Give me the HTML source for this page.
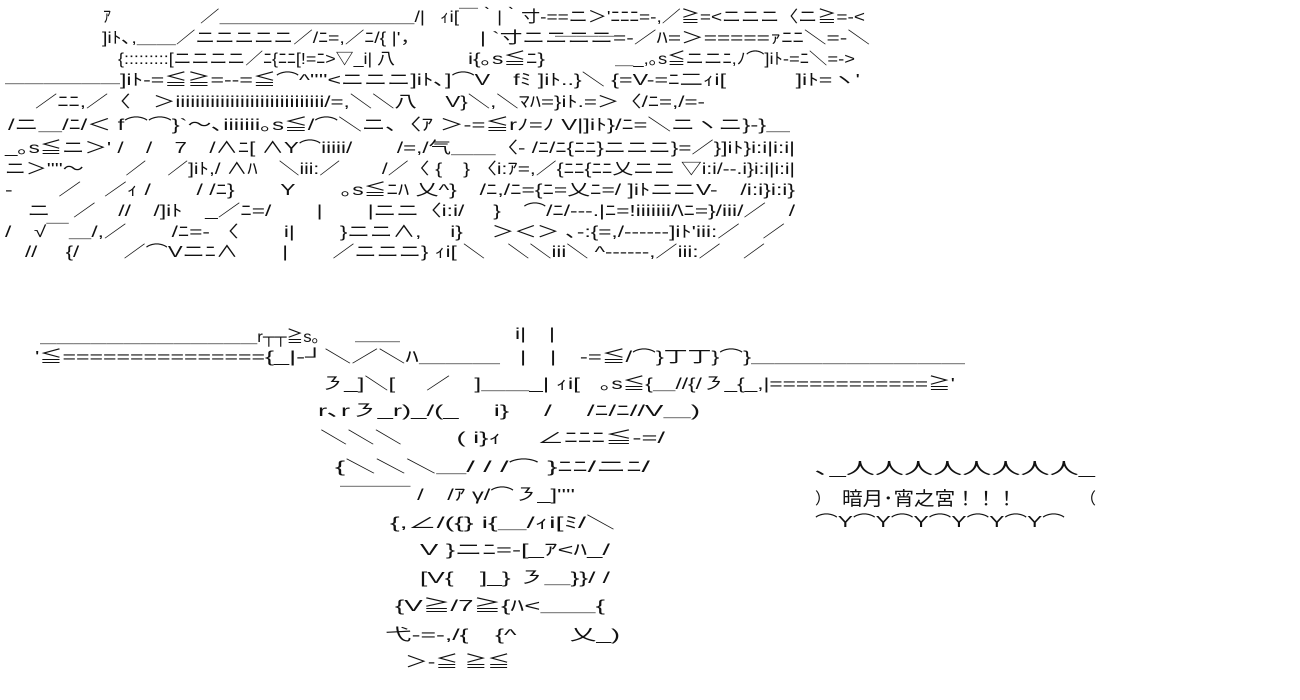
<!DOCTYPE html>
<html><head><meta charset="utf-8"><style>
html,body{margin:0;padding:0;background:#fff;width:1300px;height:700px;overflow:hidden}
svg text{font-family:"Liberation Sans","Noto Sans CJK JP",sans-serif;font-size:16px;fill:#111;white-space:pre}
</style></head><body>
<svg width="1300" height="700" xmlns="http://www.w3.org/2000/svg">
<g>
<text x="103" y="22">ｱ</text>
<text x="200" y="22" textLength="225" lengthAdjust="spacingAndGlyphs">／＿＿＿＿＿＿＿＿＿＿/|</text>
<text x="440" y="22" textLength="425" lengthAdjust="spacingAndGlyphs">ｨi[￣｀|｀寸-==ニ＞'ﾆﾆﾆ=-,／≧=&lt;ニニニ〈ニ≧=-&lt;</text>

<text x="102" y="43" textLength="318" lengthAdjust="spacingAndGlyphs">]iﾄ､,＿＿／ニニニニニ／/ﾆ=,／ﾆ/{ |'，</text>
<text x="480" y="43" textLength="390" lengthAdjust="spacingAndGlyphs">| `寸ニニニニ=-／ﾊ=＞=====ｧﾆﾆ＼=-＼</text>
<text x="555" y="50" textLength="65" lengthAdjust="spacingAndGlyphs">￣￣￣</text>

<text x="118" y="64" textLength="277" lengthAdjust="spacingAndGlyphs">{:::::::::[ニニニニ／ﾆ{ﾆﾆ[!=ﾆ&gt;▽_i| 八</text>
<text x="468" y="64" textLength="77" lengthAdjust="spacingAndGlyphs">i{｡s≦ﾆ}</text>
<text x="615" y="64" textLength="240" lengthAdjust="spacingAndGlyphs">＿_,｡s≦ニニﾆ,ﾉ⌒]iﾄ-=ﾆ＼=-&gt;</text>

<text x="5" y="82" textLength="115" lengthAdjust="spacingAndGlyphs">＿＿＿＿＿＿</text>
<text x="120" y="85" textLength="325" lengthAdjust="spacingAndGlyphs">]iﾄ-=≦≧=--=≦⌒^''''&lt;ニニニ]iﾄ､</text>
<text x="445" y="85" textLength="415" lengthAdjust="spacingAndGlyphs">]⌒V　fﾐ ]iﾄ..}＼ {=V-=ﾆ二ｨi[　　　]iﾄ=ヽ'</text>

<text x="35" y="107" textLength="670" lengthAdjust="spacingAndGlyphs">／ﾆﾆ,／〈　＞iiiiiiiiiiiiiiiiiiiiiiiiiiiiii/=,＼＼八　 V}＼,＼ﾏﾊ=}iﾄ.=＞〈/ﾆ=,/=-</text>
<text x="8" y="130" textLength="782" lengthAdjust="spacingAndGlyphs">/ニ＿/ﾆ/＜ f⌒⌒}`～､iiiiiii｡s≦/⌒＼ニ､〈ｱ ＞-=≦rﾉ=ﾉ V|]iﾄ}/ﾆ=＼ニヽニ}-}＿</text>
<text x="5" y="153" textLength="790" lengthAdjust="spacingAndGlyphs">_｡s≦ニ＞' /　/　7　/∧ﾆ[ ∧Y⌒iiiii/　　/=,/气＿＿〈- /ﾆ/ﾆ{ﾆﾆ}ニニニ}=／}]iﾄ}i:i|i:i|</text>
<text x="5" y="174" textLength="790" lengthAdjust="spacingAndGlyphs">ニ＞''''～　　／　／]iﾄ,/ ∧ﾊ　＼iii:／　　/／〈 {　} 〈i:ｱ=,／{ﾆﾆ{ﾆﾆ乂ニニ ▽i:i/--.i}i:i|i:i|</text>
<text x="5" y="195" textLength="790" lengthAdjust="spacingAndGlyphs">-　　／　／ｨ /　　/ /ﾆ}　　Y　　｡s≦ﾆﾊ 乂^}　/ﾆ,/ﾆ={ﾆ=乂ﾆ=/ ]iﾄニニV-　/i:i}i:i}</text>
<text x="5" y="216" textLength="790" lengthAdjust="spacingAndGlyphs">　ニ　／　//　/]iﾄ　_／ﾆ=/　　|　　|ニニ〈i:i/　 }　⌒/ﾆ/---.|ﾆ=!iiiiiii/\ﾆ=}/iii/／　/</text>
<text x="5" y="237" textLength="780" lengthAdjust="spacingAndGlyphs">/　√￣＿/,／　　/ﾆ=- 〈　　i|　　}ニニ∧,　 i}　 ＞＜＞ ､-:{=,/------]iﾄ'iii:／　／</text>
<text x="25" y="257" textLength="740" lengthAdjust="spacingAndGlyphs">//　 {/　　／⌒Vニﾆ∧　　|　　／ニニニ} ｨi[ ＼　＼＼iii＼ ^------,／iii:／　／</text>
</g>
<g>
<text x="40" y="342" textLength="280" lengthAdjust="spacingAndGlyphs">＿＿＿＿＿＿＿＿＿＿＿＿＿r┬┬≧s｡</text>
<text x="355" y="340" textLength="45" lengthAdjust="spacingAndGlyphs">＿＿</text>
<text x="515" y="339" textLength="40" lengthAdjust="spacingAndGlyphs">i|　|</text>
<text x="35" y="362" textLength="230" lengthAdjust="spacingAndGlyphs">'≦===============</text>
<text x="265" y="362" textLength="235" lengthAdjust="spacingAndGlyphs">{_|-┘＼／＼ﾊ＿＿＿</text>
<text x="520" y="362" textLength="445" lengthAdjust="spacingAndGlyphs">|　|　-=≦/⌒}丁丁}⌒}＿＿＿＿＿＿＿＿＿</text>
<text x="320" y="389" textLength="260" lengthAdjust="spacingAndGlyphs">㇋_]＼[　 ／　]＿＿_| ｨi[</text>
<text x="600" y="389" textLength="355" lengthAdjust="spacingAndGlyphs">｡s≦{＿//{/㇋_{_,|============≧'</text>
<text x="318" y="416" textLength="382" lengthAdjust="spacingAndGlyphs">r､r㇋_r)_/(_　 i}　 /　 /ﾆ/ﾆ//V＿)</text>
<text x="320" y="443" textLength="345" lengthAdjust="spacingAndGlyphs">＼＼＼　　( i}ｨ　 ∠ﾆﾆﾆ≦-=/</text>
<text x="335" y="472" textLength="315" lengthAdjust="spacingAndGlyphs">{＼＼＼＿/ / /⌒ }ﾆﾆ/ニﾆ/</text>
<text x="340" y="500" textLength="235" lengthAdjust="spacingAndGlyphs">￣￣￣ /　/ｱ γ/⌒㇋_]''''</text>
<text x="390" y="528" textLength="225" lengthAdjust="spacingAndGlyphs">{,∠/({} i{＿/ｨi[ﾐ/＼</text>
<text x="420" y="555" textLength="190" lengthAdjust="spacingAndGlyphs">V }ニﾆ=-[_ｱ&lt;ﾊ_/</text>
<text x="420" y="583" textLength="190" lengthAdjust="spacingAndGlyphs">[V{　]_} ㇋＿}}/ /</text>
<text x="395" y="611" textLength="210" lengthAdjust="spacingAndGlyphs">{V≧/7≧{ﾊ&lt;＿＿{</text>
<text x="385" y="640" textLength="235" lengthAdjust="spacingAndGlyphs">弋-=-,/{　{^　　乂_)</text>
<text x="405" y="667" textLength="105" lengthAdjust="spacingAndGlyphs">＞-≦ ≧≦</text>
</g>
<g>
<text x="815" y="474" textLength="280" lengthAdjust="spacingAndGlyphs">､_人人人人人人人人_</text>
<text x="815" y="504" textLength="20">）</text>
<text x="842" y="505" style="font-size:19px" textLength="175" lengthAdjust="spacingAndGlyphs">暗月･宵之宮！！！</text>
<text x="1080" y="504">（</text>
<text x="815" y="527" textLength="250" lengthAdjust="spacingAndGlyphs">⌒Y⌒Y⌒Y⌒Y⌒Y⌒Y⌒</text>
</g>
</svg>
</body></html>
